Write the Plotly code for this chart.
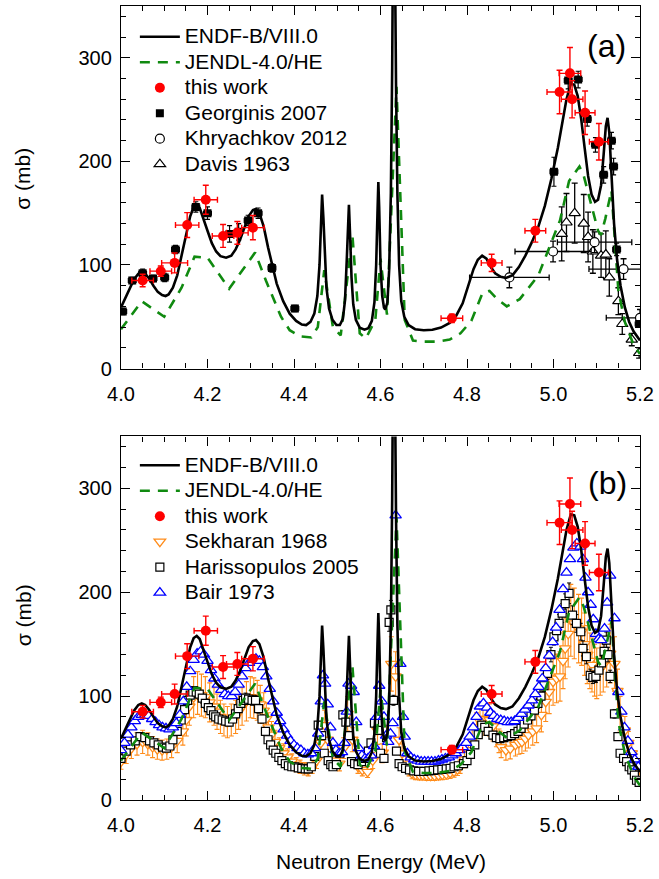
import plotly.graph_objects as go

# ---------------- data ----------------
endf_E = [4.000, 4.010, 4.020, 4.030, 4.040, 4.048, 4.056, 4.065, 4.075, 4.085, 4.095, 4.103, 4.110, 4.120,
          4.130, 4.140, 4.150, 4.160, 4.168, 4.175, 4.182, 4.190, 4.200, 4.210, 4.220, 4.230, 4.243, 4.255,
          4.265, 4.275, 4.285, 4.295, 4.305, 4.312, 4.320, 4.330, 4.340, 4.350, 4.360, 4.375, 4.390, 4.405,
          4.418, 4.428, 4.438, 4.447, 4.454, 4.459, 4.462, 4.465, 4.468, 4.471, 4.475, 4.481, 4.489, 4.498,
          4.506, 4.513, 4.518, 4.522, 4.525, 4.527, 4.530, 4.533, 4.537, 4.543, 4.552, 4.563, 4.572, 4.580,
          4.586, 4.590, 4.593, 4.595, 4.597, 4.600, 4.604, 4.608, 4.611, 4.616, 4.620, 4.624, 4.627, 4.630,
          4.633, 4.636, 4.639, 4.643, 4.648, 4.655, 4.665, 4.680, 4.700, 4.720, 4.740, 4.760, 4.775, 4.790,
          4.805, 4.815, 4.825, 4.835, 4.845, 4.855, 4.865, 4.878, 4.890, 4.905, 4.920, 4.935, 4.950, 4.965,
          4.980, 4.995, 5.010, 5.020, 5.030, 5.040, 5.048, 5.056, 5.064, 5.072, 5.080, 5.088, 5.096, 5.103,
          5.110, 5.116, 5.121, 5.125, 5.129, 5.134, 5.140, 5.147, 5.155, 5.165, 5.175, 5.185, 5.200]
endf_S = [59, 68, 78, 86, 91.5, 93, 91.5, 87, 80, 74, 71, 70, 71.5, 78,
          90, 108, 128, 147, 156, 158, 155, 146, 133, 121, 113, 108.5, 107, 109,
          115, 124, 136, 147, 153, 154, 150, 137, 117, 98, 82, 65, 53, 46,
          42.5, 42, 45, 53, 70, 100, 135, 168, 145, 108, 78, 58, 47, 42,
          42, 48, 66, 105, 150, 158, 125, 88, 62, 47, 39.5, 37.5, 39, 46,
          64, 100, 150, 180, 155, 100, 70, 59, 57, 64, 95, 170, 290, 480,
          420, 270, 170, 100, 65, 50, 42, 38, 37, 37.5, 39.5, 44, 51, 63,
          82, 96, 105, 109, 106, 98, 92, 88.5, 87.5, 90, 98, 109, 122, 137,
          157, 183, 213, 237, 260, 275, 274, 263, 241, 213, 186, 168, 161, 163,
          177, 207, 234, 242, 228, 188, 140, 105, 80, 59, 45, 36, 27]

jendl_E = [4.000, 4.048, 4.100, 4.140, 4.170, 4.200, 4.250, 4.310, 4.335, 4.370, 4.390, 4.415, 4.440,
           4.455, 4.470, 4.490, 4.508, 4.535, 4.552, 4.566, 4.588, 4.600, 4.615, 4.637, 4.656, 4.675,
           4.700, 4.730, 4.760, 4.785, 4.810, 4.836, 4.852, 4.870, 4.892, 4.922, 4.965, 4.995, 5.015,
           5.036, 5.060, 5.070, 5.088, 5.103, 5.110, 5.120, 5.134, 5.150, 5.165, 5.185, 5.200]
jendl_S = [38, 65, 50, 78, 108, 107, 77, 112, 85, 50, 37, 31, 30,
           40, 95, 40, 32, 129, 34, 29, 47, 106, 52, 272, 47, 27,
           26, 26, 28, 34, 46, 73, 75, 67, 60, 67, 90, 121, 143,
           181, 195, 186, 158, 133, 129, 145, 172, 75, 45, 23, 14]

work_E = [4.050, 4.092, 4.124, 4.153, 4.196, 4.236, 4.269, 4.305, 4.765, 4.857, 4.958, 5.014, 5.038, 5.043, 5.073, 5.105]
work_S = [85, 94, 102, 138.5, 163, 128, 131, 136, 48.5, 102, 133, 267, 285, 260, 247, 219]
work_dE = [0.025, 0.025, 0.030, 0.027, 0.027, 0.025, 0.025, 0.026, 0.025, 0.024, 0.024, 0.029, 0.025, 0.025, 0.023, 0.022]
work_dS = [6, 5, 9.6, 12, 14, 11, 11, 11.7, 4, 8.3, 11, 21, 25, 18, 21, 17.6]

georg_E = [4.004, 4.026, 4.050, 4.074, 4.101, 4.126, 4.173, 4.200, 4.251, 4.272, 4.294, 4.317, 4.349, 4.402,
           5.001, 5.034, 5.057, 5.078, 5.097, 5.116, 5.134, 5.139, 5.146, 5.198]
georg_S = [55, 85, 92, 87, 88, 115, 156, 150, 130, 132, 143, 150, 97, 58,
           190, 278, 279, 241, 216, 187, 220, 195, 115, 43]
georg_dS = [3, 3, 4, 3, 4, 4, 5, 6, 8, 8, 5, 5, 4, 3, 14, 8, 8, 7, 7, 8, 8, 8, 6, 3]

khry_E = [4.898, 4.999, 5.095, 5.162, 5.200]
khry_S = [88, 113, 122, 96, 49]
khry_dE = [0.092, 0.088, 0.086, 0.080, 0.078]
khry_dS = [10, 10, 10, 10, 8]

davis_E = [5.019, 5.030, 5.049, 5.070, 5.080, 5.091, 5.110, 5.121, 5.129, 5.150, 5.159, 5.181, 5.198]
davis_S = [130, 141, 150, 140, 127, 113, 109, 110, 88, 65, 43, 28, 15]
davis_dS = [26, 28, 29, 28, 24, 21, 21, 23, 18, 13, 10, 6, 5]

sekh_E = [4.000, 4.012, 4.024, 4.037, 4.050, 4.062, 4.073, 4.084, 4.095, 4.106, 4.117, 4.130, 4.143, 4.151,
          4.158, 4.168, 4.177, 4.186, 4.195, 4.205, 4.215, 4.222, 4.230, 4.238, 4.246, 4.255, 4.265, 4.272,
          4.280, 4.290, 4.299, 4.307, 4.315, 4.322, 4.330, 4.336, 4.341, 4.348, 4.356, 4.366, 4.376, 4.385,
          4.395, 4.405, 4.414, 4.424, 4.433, 4.442, 4.452, 4.462, 4.471, 4.478, 4.486, 4.495, 4.505, 4.515,
          4.524, 4.535, 4.548, 4.558, 4.570, 4.582, 4.593, 4.604, 4.614, 4.625, 4.635, 4.643, 4.650, 4.658,
          4.666, 4.673, 4.681, 4.690, 4.698, 4.707, 4.716, 4.725, 4.734, 4.743, 4.752, 4.761, 4.770, 4.778,
          4.784, 4.794, 4.803, 4.812, 4.822, 4.830, 4.837, 4.845, 4.852, 4.860, 4.868, 4.874, 4.879, 4.890,
          4.900, 4.912, 4.920, 4.927, 4.935, 4.942, 4.952, 4.961, 4.972, 4.982, 4.990, 4.999, 5.007, 5.015,
          5.022, 5.027, 5.034, 5.040, 5.048, 5.058, 5.065, 5.072, 5.078, 5.084, 5.089, 5.095, 5.100, 5.108,
          5.115, 5.123, 5.131, 5.141, 5.148, 5.154, 5.165, 5.173, 5.181, 5.190, 5.198]
sekh_S = [37, 44, 50, 54, 56, 54, 51, 49, 48, 49, 51, 57, 66, 77,
          90, 99, 103, 101, 99, 94, 90, 85, 80, 77, 75, 77, 80, 85,
          90, 95, 99, 98, 96, 92, 86, 78, 70, 63, 56, 50, 45, 41,
          37, 34, 32, 30, 29, 32, 38, 55, 72, 58, 44, 38, 35, 50,
          83, 58, 32, 29, 27, 38, 67, 45, 60, 131, 119, 58, 45, 35,
          29, 25.6, 24.5, 24, 24, 23.5, 23.5, 23.5, 24, 24.5, 25, 26, 27.5, 29.5,
          32, 39, 48, 58, 70, 76, 78, 78, 77, 71, 64, 57, 51, 48,
          49.5, 53, 55, 56, 59, 62.5, 66, 69, 82, 94.5, 104, 114, 117, 119,
          134, 146, 160, 173, 170, 165, 162, 150, 140, 134, 130, 125, 122, 126,
          130, 136, 141, 131, 105, 83, 67, 55, 45, 37, 30]

hari_E = [4.000, 4.012, 4.022, 4.033, 4.044, 4.055, 4.066, 4.076, 4.086, 4.096, 4.105, 4.113, 4.120, 4.130,
          4.139, 4.147, 4.154, 4.160, 4.166, 4.174, 4.181, 4.188, 4.195, 4.202, 4.208, 4.214, 4.219, 4.226,
          4.234, 4.242, 4.250, 4.258, 4.265, 4.271, 4.277, 4.283, 4.288, 4.295, 4.303, 4.311, 4.318, 4.326,
          4.334, 4.340, 4.346, 4.352, 4.358, 4.365, 4.372, 4.380, 4.387, 4.395, 4.402, 4.410, 4.418, 4.426,
          4.433, 4.440, 4.448, 4.456, 4.464, 4.470, 4.479, 4.485, 4.490, 4.498, 4.506, 4.513, 4.520, 4.526,
          4.533, 4.540, 4.548, 4.556, 4.565, 4.572, 4.578, 4.586, 4.594, 4.600, 4.608, 4.614, 4.620, 4.624,
          4.630, 4.637, 4.643, 4.650, 4.658, 4.667, 4.677, 4.688, 4.700, 4.712, 4.722, 4.732, 4.742, 4.752,
          4.761, 4.770, 4.780, 4.792, 4.800, 4.808, 4.818, 4.826, 4.834, 4.841, 4.849, 4.860, 4.868, 4.876,
          4.885, 4.894, 4.902, 4.910, 4.918, 4.925, 4.932, 4.940, 4.948, 4.956, 4.964, 4.971, 4.978, 4.986,
          4.994, 5.001, 5.007, 5.013, 5.020, 5.027, 5.036, 5.044, 5.053, 5.063, 5.068, 5.076, 5.085, 5.091,
          5.098, 5.105, 5.111, 5.117, 5.122, 5.126, 5.131, 5.141, 5.149, 5.154, 5.162, 5.169, 5.175, 5.181,
          5.187, 5.192, 5.198]
hari_S = [40, 47, 53, 57, 61, 60, 57, 55, 53, 51, 50, 52, 58, 66,
          77, 87, 96, 101, 104, 104, 102, 98, 93, 89, 86, 82, 80, 78,
          77, 76, 75, 78, 83, 88, 93, 96, 98, 97, 96, 96, 88, 78,
          66, 58, 53, 48, 45, 41, 38, 35, 33, 32, 32, 31, 30.5, 30,
          30, 32, 42, 72, 62, 45, 38, 34, 32, 34, 45, 82, 75, 62,
          37, 35, 34, 37, 40, 47, 55, 74, 67, 45, 40, 60, 171, 183,
          96, 47, 35, 32, 30.5, 29, 28, 27.5, 27.5, 28, 28.5, 29, 29.5, 30,
          30.5, 32, 33, 35, 38, 44, 53, 63, 72, 70, 66, 62.5, 60, 59,
          60, 61, 62, 64, 66, 69, 73, 77, 81, 86.5, 93, 100, 110, 122,
          140, 157, 163, 170, 180, 189, 199, 178, 170, 162, 146, 138, 120, 118,
          119, 125, 132, 143, 154, 140, 119, 83, 61, 45, 40, 37, 32, 29,
          24, 19, 17]

bair_E = [4.000, 4.008, 4.016, 4.024, 4.032, 4.040, 4.048, 4.056, 4.064, 4.072, 4.080, 4.088, 4.096, 4.104,
          4.112, 4.120, 4.128, 4.136, 4.144, 4.152, 4.160, 4.168, 4.176, 4.184, 4.192, 4.200, 4.208, 4.216,
          4.224, 4.232, 4.240, 4.248, 4.256, 4.264, 4.272, 4.280, 4.288, 4.296, 4.304, 4.312, 4.320, 4.328,
          4.336, 4.344, 4.352, 4.360, 4.368, 4.376, 4.384, 4.392, 4.400, 4.408, 4.416, 4.424, 4.432, 4.440,
          4.448, 4.456, 4.462, 4.467, 4.472, 4.478, 4.484, 4.490, 4.497, 4.504, 4.511, 4.517, 4.522, 4.526,
          4.532, 4.538, 4.544, 4.550, 4.557, 4.564, 4.571, 4.578, 4.585, 4.591, 4.597, 4.603, 4.608, 4.613,
          4.618, 4.623, 4.628, 4.635, 4.646, 4.652, 4.656, 4.662, 4.670, 4.678, 4.686, 4.694, 4.702, 4.710,
          4.718, 4.726, 4.734, 4.742, 4.750, 4.758, 4.766, 4.774, 4.782, 4.790, 4.798, 4.806, 4.814, 4.822,
          4.830, 4.838, 4.846, 4.854, 4.862, 4.870, 4.878, 4.886, 4.894, 4.902, 4.910, 4.918, 4.926, 4.934,
          4.942, 4.950, 4.958, 4.966, 4.974, 4.982, 4.990, 4.998, 5.006, 5.014, 5.022, 5.030, 5.038, 5.046,
          5.054, 5.062, 5.068, 5.074, 5.080, 5.086, 5.092, 5.098, 5.104, 5.110, 5.118, 5.124, 5.131, 5.141,
          5.150, 5.157, 5.164, 5.172, 5.180, 5.188, 5.196]
bair_S = [48, 55, 63, 70, 76, 80, 82, 82, 81, 78, 75, 72, 70, 69,
          68, 70, 74, 82, 95, 109, 124, 135, 141, 143, 140, 134, 125, 117,
          111, 106, 102, 100, 100, 104, 111, 119, 127, 132, 135, 136, 134, 128,
          119, 107, 95, 84, 76, 68, 62, 57, 53, 50, 48, 45, 44, 45,
          50, 64, 95, 120, 112, 92, 70, 55, 48, 45, 46, 55, 85, 112,
          110, 104, 75, 50, 43, 40, 40, 43, 52, 80, 110, 95, 80, 62,
          56, 64, 74, 274, 131, 80, 61, 45, 41, 39, 38, 37, 37, 37,
          37, 37, 38, 39, 40, 41, 43, 45, 48, 51, 55, 61, 70, 80,
          90, 93, 89, 84, 81, 78, 77, 76, 75, 75, 76, 79, 83, 87,
          91, 96, 102, 109, 117, 127, 139, 152, 166, 183, 203, 219, 232, 243,
          247, 244, 232, 214, 200, 188, 174, 160, 155, 154, 165, 190, 216, 175,
          104, 85, 70, 57, 46, 39, 32]

# ---------------- styling ----------------
FONT = "Liberation Sans, Arial, sans-serif"
GREEN = "#108a10"
RED = "#ff0000"
ORANGE = "#ff8c1a"
BLUE = "#0000ff"


def lbl(s):
    return '<span style="font-size:21px">' + s + '</span>'


def err(arr, color, width=3, thick=1.3):
    return dict(type="data", array=arr, visible=True, color=color, thickness=thick, width=width)


fig = go.Figure()

# ---------- panel (a) ----------
fig.add_trace(go.Scatter(x=davis_E, y=davis_S, mode="markers", name=lbl("Davis 1963"), legend="legend",
                         xaxis="x", yaxis="y", legendrank=6,
                         marker=dict(symbol="triangle-up", size=10, color="white", line=dict(color="black", width=1.2)),
                         error_y=err(davis_dS, "black")))
fig.add_trace(go.Scatter(x=khry_E, y=khry_S, mode="markers", name=lbl("Khryachkov 2012"), legend="legend",
                         xaxis="x", yaxis="y", legendrank=5,
                         marker=dict(symbol="circle", size=9, color="white", line=dict(color="black", width=1.2)),
                         error_x=err(khry_dE, "black"), error_y=err(khry_dS, "black")))
fig.add_trace(go.Scatter(x=georg_E, y=georg_S, mode="markers", name=lbl("Georginis 2007"), legend="legend",
                         xaxis="x", yaxis="y", legendrank=4,
                         marker=dict(symbol="square", size=8, color="black"),
                         error_x=dict(type="constant", value=0.009, color="black", thickness=1.2, width=2.5),
                         error_y=err(georg_dS, "black", 2.5, 1.2)))
fig.add_trace(go.Scatter(x=jendl_E, y=jendl_S, mode="lines", name=lbl("JENDL-4.0/HE"), legend="legend",
                         xaxis="x", yaxis="y", legendrank=2,
                         line=dict(color=GREEN, width=2.6, dash="10px,8px")))
fig.add_trace(go.Scatter(x=endf_E, y=endf_S, mode="lines", name=lbl("ENDF-B/VIII.0"), legend="legend",
                         xaxis="x", yaxis="y", legendrank=1,
                         line=dict(color="black", width=2.6)))
fig.add_trace(go.Scatter(x=work_E, y=work_S, mode="markers", name=lbl("this work"), legend="legend",
                         xaxis="x", yaxis="y", legendrank=3,
                         marker=dict(symbol="circle", size=10, color=RED),
                         error_x=err(work_dE, RED, 3, 1.4), error_y=err(work_dS, RED, 3, 1.4)))

# ---------- panel (b) ----------
fig.add_trace(go.Scatter(x=sekh_E, y=sekh_S, mode="markers", name=lbl("Sekharan 1968"), legend="legend2",
                         xaxis="x2", yaxis="y2", legendrank=4,
                         marker=dict(symbol="triangle-down", size=10, color="white", line=dict(color=ORANGE, width=1.3)),
                         error_y=dict(type="percent", value=20, color=ORANGE, thickness=1.1, width=2.5)))
fig.add_trace(go.Scatter(x=hari_E, y=hari_S, mode="markers", name=lbl("Harissopulos 2005"), legend="legend2",
                         xaxis="x2", yaxis="y2", legendrank=5,
                         marker=dict(symbol="square", size=8, color="white", line=dict(color="black", width=1.2)),
                         error_y=dict(type="percent", value=5, color="black", thickness=1.0, width=2)))
fig.add_trace(go.Scatter(x=bair_E, y=bair_S, mode="markers", name=lbl("Bair 1973"), legend="legend2",
                         xaxis="x2", yaxis="y2", legendrank=6,
                         marker=dict(symbol="triangle-up", size=10, color="white", line=dict(color=BLUE, width=1.3))))
fig.add_trace(go.Scatter(x=jendl_E, y=jendl_S, mode="lines", name=lbl("JENDL-4.0/HE"), legend="legend2",
                         xaxis="x2", yaxis="y2", legendrank=2,
                         line=dict(color=GREEN, width=2.6, dash="10px,8px")))
fig.add_trace(go.Scatter(x=endf_E, y=endf_S, mode="lines", name=lbl("ENDF-B/VIII.0"), legend="legend2",
                         xaxis="x2", yaxis="y2", legendrank=1,
                         line=dict(color="black", width=2.6)))
fig.add_trace(go.Scatter(x=work_E, y=work_S, mode="markers", name=lbl("this work"), legend="legend2",
                         xaxis="x2", yaxis="y2", legendrank=3,
                         marker=dict(symbol="circle", size=10, color=RED),
                         error_x=err(work_dE, RED, 3, 1.4), error_y=err(work_dS, RED, 3, 1.4)))

tickfont = dict(family=FONT, size=20, color="black")

xcommon = dict(range=[4.0, 5.2], dtick=0.2, tick0=4.0, tickformat=".1f", ticks="inside", ticklen=9,
               tickwidth=1.2, tickcolor="black", showline=True, linecolor="black", linewidth=1.4,
               mirror="allticks", showgrid=False, zeroline=False, tickfont=tickfont,
               ticklabelstandoff=7,
               minor=dict(dtick=0.05, ticks="inside", ticklen=5, tickcolor="black", tickwidth=1.1, showgrid=False))
ycommon = dict(range=[0, 350], dtick=100, tick0=0, ticks="inside", ticklen=9, tickwidth=1.2,
               tickcolor="black", showline=True, linecolor="black", linewidth=1.4, mirror="allticks",
               showgrid=False, zeroline=False, tickfont=tickfont, ticklabelstandoff=4,
               minor=dict(dtick=20, ticks="inside", ticklen=5, tickcolor="black", tickwidth=1.1, showgrid=False))

H_PLOT = 795.0


def py(px):
    return (800.0 - px) / H_PLOT


def pxx(px):
    return (px - 121.0) / 524.0


legfont = dict(family=FONT, size=17.3, color="black")

fig.update_layout(
    width=659, height=879,
    margin=dict(l=121, r=14, t=5, b=79),
    paper_bgcolor="white", plot_bgcolor="white",
    showlegend=True,
    xaxis=dict(domain=[0, 1], anchor="y", **xcommon),
    yaxis=dict(domain=[py(368), 1], anchor="x", **ycommon),
    xaxis2=dict(domain=[0, 1], anchor="y2", **xcommon),
    yaxis2=dict(domain=[0, py(436)], anchor="x2", **ycommon),
    legend=dict(x=pxx(135), y=py(18), xanchor="left", yanchor="top", font=legfont,
                bgcolor="rgba(0,0,0,0)", itemwidth=40, tracegroupgap=0, traceorder="normal"),
    legend2=dict(x=pxx(135), y=py(447), xanchor="left", yanchor="top", font=legfont,
                 bgcolor="rgba(0,0,0,0)", itemwidth=40, tracegroupgap=0, traceorder="normal"),
    annotations=[
        dict(text="(a)", x=pxx(611), y=py(45), xref="paper", yref="paper", showarrow=False,
             font=dict(family=FONT, size=32, color="black"), xanchor="center", yanchor="middle"),
        dict(text="(b)", x=pxx(612), y=py(483), xref="paper", yref="paper", showarrow=False,
             font=dict(family=FONT, size=32, color="black"), xanchor="center", yanchor="middle"),
        dict(text="σ (mb)", x=pxx(22), y=py(178), xref="paper", yref="paper", showarrow=False,
             textangle=-90, font=dict(family=FONT, size=21, color="black"), xanchor="center", yanchor="middle"),
        dict(text="σ (mb)", x=pxx(22), y=py(615), xref="paper", yref="paper", showarrow=False,
             textangle=-90, font=dict(family=FONT, size=21, color="black"), xanchor="center", yanchor="middle"),
        dict(text="Neutron Energy (MeV)", x=pxx(383), y=py(862), xref="paper", yref="paper", showarrow=False,
             font=dict(family=FONT, size=21, color="black"), xanchor="center", yanchor="middle"),
    ],
)

fig.write_html("out.html")
